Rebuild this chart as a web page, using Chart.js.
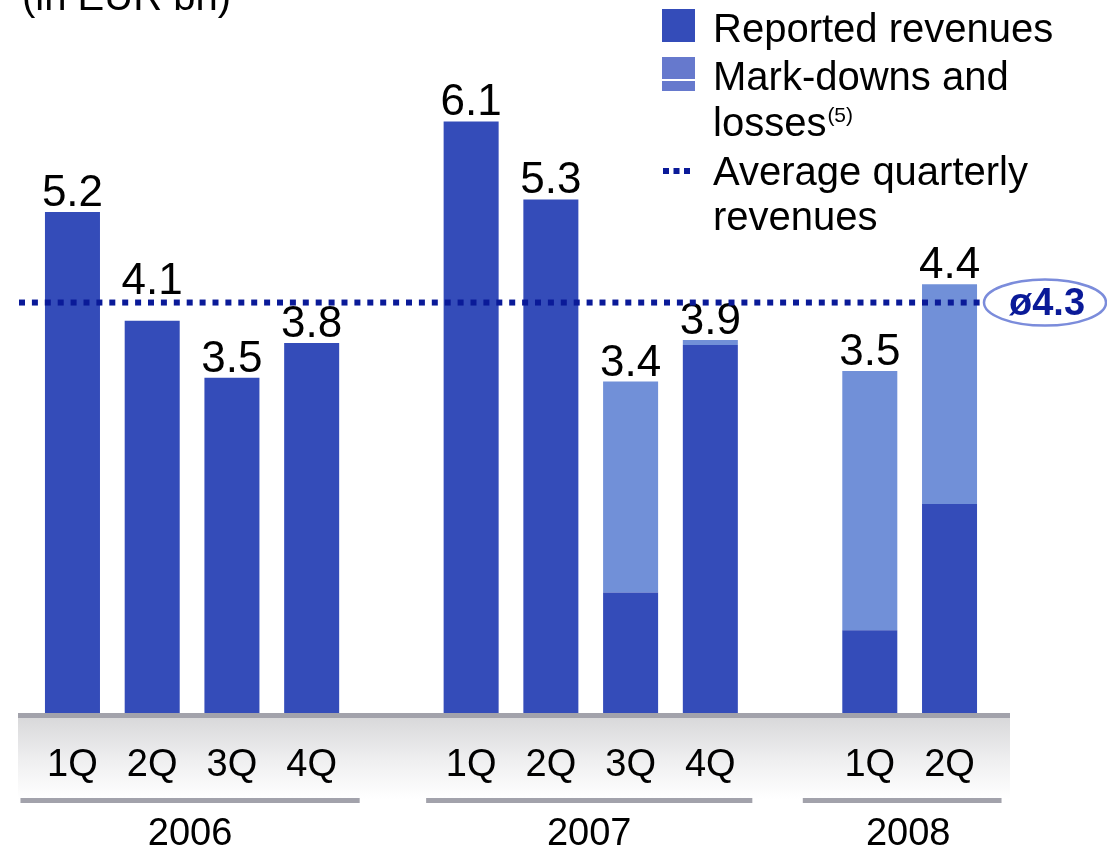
<!DOCTYPE html>
<html>
<head>
<meta charset="utf-8">
<script src="https://cdn.jsdelivr.net/npm/chart.js@4"></script>
<style>
  html, body { margin: 0; padding: 0; background: #fff; }
  #wrap { width: 1107px; height: 850px; position: relative; }
</style>
</head>
<body>
<div id="wrap"><canvas id="c"></canvas></div>
<script>
// ---- data ----
const categories = ['1Q','2Q','3Q','4Q','','1Q','2Q','3Q','4Q','','1Q','2Q'];
const years = ['2006','2007','2008'];
const yearGroups = [[0,3],[5,8],[10,11]];
const reportedRevenues = [5.2, 4.07, 3.48, 3.84, null, 6.14, 5.33, 1.25, 3.82, null, 0.86, 2.17];
const markdownsLosses  = [0,   0,    0,    0,    null, 0,    0,    2.19, 0.05, null, 2.69, 2.28];
const totalLabels = ['5.2','4.1','3.5','3.8','','6.1','5.3','3.4','3.9','','3.5','4.4'];
const averageQuarterly = 4.26;
const averageLabel = 'ø4.3';
const titleText = '(in EUR bn)';
const legendItems = ['Reported revenues', 'Mark-downs and', 'losses', 'Average quarterly', 'revenues'];

const FONT = '"Liberation Sans", Arial, Helvetica, sans-serif';
const DARK = '#344cb9';
const LIGHT = '#7190d8';
const NAVY = '#0a1a98';

const deco = {
  id: 'deco',
  beforeDatasetsDraw(chart) {
    const ctx = chart.ctx;
    const x = chart.scales.x;
    const y = chart.scales.y;
    const base = y.getPixelForValue(0);
    ctx.save();
    // gray band under baseline
    const g = ctx.createLinearGradient(0, base, 0, base + 86);
    g.addColorStop(0, '#d6d6d8');
    g.addColorStop(0.55, '#efeff0');
    g.addColorStop(1, '#ffffff');
    ctx.fillStyle = g;
    ctx.fillRect(18, base, 992, 86);
    ctx.fillStyle = '#a2a2ab';
    ctx.fillRect(18, base, 992, 5);
    // quarter labels
    ctx.fillStyle = '#000';
    ctx.font = '38px ' + FONT;
    ctx.textAlign = 'center';
    ctx.textBaseline = 'alphabetic';
    categories.forEach((c, i) => {
      if (c) ctx.fillText(c, x.getPixelForValue(i), base + 63);
    });
    // year lines and labels
    const lineExt = [[-52, 48], [-45, 42], [-67, 52]];
    yearGroups.forEach((gr, k) => {
      const x0 = x.getPixelForValue(gr[0]) + lineExt[k][0];
      const x1 = x.getPixelForValue(gr[1]) + lineExt[k][1];
      ctx.fillStyle = '#a2a2ab';
      ctx.fillRect(x0, base + 85, x1 - x0, 5);
      ctx.fillStyle = '#000';
      ctx.font = '38px ' + FONT;
      ctx.fillText(years[k], (x0 + x1) / 2 + (k === 2 ? 6 : 0), base + 132);
    });
    // title (cut off at top)
    ctx.textAlign = 'left';
    ctx.font = '40px ' + FONT;
    ctx.fillText(titleText, 22, 10);
    ctx.restore();
  },
  afterDatasetsDraw(chart) {
    const ctx = chart.ctx;
    const x = chart.scales.x;
    const y = chart.scales.y;
    const ay = y.getPixelForValue(averageQuarterly);
    ctx.save();
    // value labels (lifted above the average line when they would collide)
    ctx.fillStyle = '#000';
    ctx.font = '44px ' + FONT;
    ctx.textAlign = 'center';
    ctx.textBaseline = 'alphabetic';
    categories.forEach((c, i) => {
      if (!totalLabels[i]) return;
      const tot = (reportedRevenues[i] || 0) + (markdownsLosses[i] || 0);
      let by = y.getPixelForValue(tot) - 6;
      if (by > ay - 4 && by - 30 < ay + 1 && x.getPixelForValue(i) < 900) by = ay - 9;
      ctx.fillText(totalLabels[i], x.getPixelForValue(i), by);
    });
    // average dotted line
    ctx.fillStyle = NAVY;
    for (let px = 19; px < 980; px += 12.9) {
      ctx.fillRect(px, ay - 3, 6, 6);
    }
    // ellipse label
    const ex = 1045;
    ctx.beginPath();
    ctx.ellipse(ex, ay, 61, 23, 0, 0, Math.PI * 2);
    ctx.fillStyle = '#fff';
    ctx.fill();
    ctx.strokeStyle = '#7b8cdb';
    ctx.lineWidth = 2.5;
    ctx.stroke();
    ctx.fillStyle = NAVY;
    ctx.font = 'bold 38px ' + FONT;
    ctx.textBaseline = 'middle';
    ctx.fillText(averageLabel, ex + 2, ay + 2);
    // legend
    ctx.fillStyle = DARK;
    ctx.fillRect(662, 9, 33, 33);
    ctx.fillStyle = '#6679cd';
    ctx.fillRect(662, 57, 33, 34);
    ctx.fillStyle = '#fff';
    ctx.fillRect(662, 79, 33, 2);
    ctx.fillStyle = NAVY;
    for (let k = 0; k < 3; k++) ctx.fillRect(663 + k * 10.5, 168, 6, 6);
    ctx.fillStyle = '#000';
    ctx.textAlign = 'left';
    ctx.textBaseline = 'alphabetic';
    ctx.font = '40px ' + FONT;
    const baselines = [42, 90, 136, 185, 230];
    legendItems.forEach((t, k) => ctx.fillText(t, 713, baselines[k]));
    const w = ctx.measureText(legendItems[2]).width;
    ctx.font = '21px ' + FONT;
    ctx.fillText('(5)', 713 + w + 1, 122);
    ctx.restore();
  }
};

new Chart(document.getElementById('c'), {
  type: 'bar',
  data: {
    labels: categories,
    datasets: [
      { label: 'Reported revenues', data: reportedRevenues, backgroundColor: DARK,
        barPercentage: 0.69, categoryPercentage: 1.0, borderWidth: 0 },
      { label: 'Mark-downs and losses', data: markdownsLosses, backgroundColor: LIGHT,
        barPercentage: 0.69, categoryPercentage: 1.0, borderWidth: 0 }
    ]
  },
  options: {
    responsive: true,
    maintainAspectRatio: false,
    animation: false,
    layout: { padding: { left: 32.6, right: 117.6, top: 0, bottom: 137 } },
    plugins: { legend: { display: false }, tooltip: { enabled: false } },
    scales: {
      x: { stacked: true, display: false },
      y: { stacked: true, display: false, min: 0, max: 7.4 }
    }
  },
  plugins: [deco]
});
</script>
</body>
</html>
